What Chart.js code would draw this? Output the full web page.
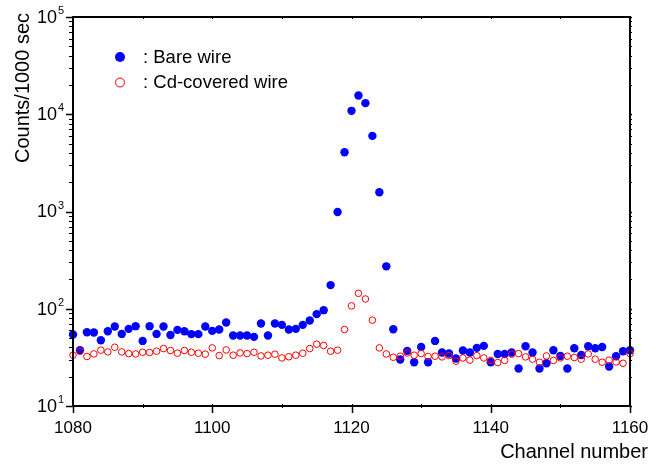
<!DOCTYPE html>
<html>
<head>
<meta charset="utf-8">
<script src="https://cdn.jsdelivr.net/npm/chart.js@4/dist/chart.umd.min.js"></script>
<style>
    html, body { margin: 0; padding: 0; background: #fff; }
    #wrap { width: 656px; height: 466px; }
</style>
</head>
<body>
<div id="wrap"><canvas id="spectrum" width="656" height="466"></canvas></div>
<script>
"use strict";

var channels = [
    1080, 1081, 1082, 1083, 1084, 1085, 1086, 1087, 1088, 1089,
    1090, 1091, 1092, 1093, 1094, 1095, 1096, 1097, 1098, 1099,
    1100, 1101, 1102, 1103, 1104, 1105, 1106, 1107, 1108, 1109,
    1110, 1111, 1112, 1113, 1114, 1115, 1116, 1117, 1118, 1119,
    1120, 1121, 1122, 1123, 1124, 1125, 1126, 1127, 1128, 1129,
    1130, 1131, 1132, 1133, 1134, 1135, 1136, 1137, 1138, 1139,
    1140, 1141, 1142, 1143, 1144, 1145, 1146, 1147, 1148, 1149,
    1150, 1151, 1152, 1153, 1154, 1155, 1156, 1157, 1158, 1159,
    1160
];

// bare wire counts per 1000 sec
var bareWire = [
    54.4, 37.5, 57.4, 57.0, 47.5, 58.8, 65.7, 55.1, 62.1, 66.2,
    46.7, 66.2, 55.1, 65.7, 53.8, 60.6, 58.8, 54.8, 54.8, 65.7,
    59.2, 61.2, 72.3, 53.1, 53.1, 53.1, 51.4, 70.6, 53.1, 70.6,
    68.3, 61.2, 62.1, 68.3, 75.8, 88.0, 96.7, 175, 988, 4070,
    10840, 15580, 13010, 5990, 1577, 273, 61.6, 30.1, 36.9, 28.2,
    40.5, 28.2, 46.7, 35.5, 34.6, 30.8, 37.2, 35.5, 39.6, 41.5,
    28.2, 34.3, 34.3, 35.5, 24.3, 41.2, 35.5, 24.3, 27.5, 37.5,
    32.7, 24.3, 39.3, 33.5, 41.2, 39.3, 40.5, 25.5, 32.5, 36.6,
    37.5
];

// Cd-covered wire counts per 1000 sec
var cdWire = [
    33.3, 36.6, 32.3, 34.3, 37.5, 36.0, 40.2, 36.0, 34.6, 34.3,
    35.7, 35.5, 36.6, 39.0, 37.2, 34.9, 37.2, 35.7, 34.9, 34.1,
    39.6, 33.0, 37.7, 33.3, 35.1, 34.6, 35.7, 32.7, 33.3, 34.1,
    31.2, 32.1, 33.3, 34.9, 39.0, 43.2, 41.9, 36.6, 37.5, 61.2,
    107, 144, 126, 76.3, 39.6, 34.3, 31.7, 32.5, 35.1, 33.3,
    34.6, 32.3, 32.5, 32.0, 33.0, 28.9, 31.2, 29.6, 33.0, 31.2,
    29.4, 28.0, 29.4, 34.1, 34.6, 32.0, 30.3, 28.2, 32.7, 29.4,
    31.2, 32.5, 31.5, 30.3, 34.3, 30.3, 28.2, 29.6, 28.4, 27.5,
    34.6
];

var xMajorTicks = [1080, 1100, 1120, 1140, 1160];
var xMinorTicks = [1090, 1110, 1130, 1150];
var yDecades = [1, 2, 3, 4, 5];

var seriesNames = [': Bare wire', ': Cd-covered wire'];

var FONT = '"Liberation Sans", Arial, Helvetica, sans-serif';

function toPoints(values) {
    return values.map(function (v, i) { return { x: channels[i], y: v }; });
}

var frameLayer = {
    id: 'frameLayer',
    afterDatasetsDraw: function (chart) {
        var ctx = chart.ctx;
        var area = chart.chartArea;
        var xs = chart.scales.x;
        var ys = chart.scales.y;

        ctx.save();
        ctx.strokeStyle = '#000';
        ctx.fillStyle = '#000';
        ctx.lineWidth = 2;
        ctx.beginPath();
        ctx.rect(area.left, area.top, area.right - area.left, area.bottom - area.top);
        ctx.stroke();

        // x ticks
        ctx.lineWidth = 1.5;
        xMajorTicks.forEach(function (v) {
            var px = Math.round(xs.getPixelForValue(v)) + 0.5;
            ctx.beginPath();
            ctx.moveTo(px, area.bottom);
            ctx.lineTo(px, area.bottom + 7);
            ctx.stroke();
        });
        ctx.lineWidth = 1;
        xMinorTicks.concat(xMajorTicks).forEach(function (v) {
            var px = Math.round(xs.getPixelForValue(v)) + 0.5;
            ctx.beginPath();
            ctx.moveTo(px, area.bottom - 2);
            ctx.lineTo(px, area.bottom + 2);
            ctx.moveTo(px, area.top - 1);
            ctx.lineTo(px, area.top + 2);
            ctx.stroke();
        });

        // y ticks, log minor ones too
        yDecades.forEach(function (d) {
            for (var m = 1; m <= 9; m++) {
                var val = m * Math.pow(10, d);
                if (val > 100000) { break; }
                var py = Math.round(ys.getPixelForValue(val)) + 0.5;
                var len = m === 1 ? 7 : 4;
                ctx.lineWidth = m === 1 ? 1.5 : 1;
                ctx.beginPath();
                ctx.moveTo(area.left - len, py);
                ctx.lineTo(area.left, py);
                ctx.moveTo(area.right, py);
                ctx.lineTo(area.right + 2, py);
                ctx.stroke();
            }
        });

        // tick labels
        ctx.font = '17px ' + FONT;
        ctx.textAlign = 'center';
        ctx.textBaseline = 'middle';
        xMajorTicks.forEach(function (v) {
            ctx.fillText(String(v), xs.getPixelForValue(v), area.bottom + 22);
        });

        yDecades.forEach(function (d) {
            var py = ys.getPixelForValue(Math.pow(10, d));
            ctx.font = '18px ' + FONT;
            ctx.textAlign = 'right';
            ctx.textBaseline = 'middle';
            ctx.fillText('10', 57, py + 1);
            ctx.font = '11px ' + FONT;
            ctx.textAlign = 'left';
            ctx.fillText(String(d), 58, py - 6);
        });

        // axis titles
        ctx.font = '20px ' + FONT;
        ctx.textAlign = 'right';
        ctx.textBaseline = 'alphabetic';
        ctx.fillText('Channel number', 648, 458);

        ctx.save();
        ctx.translate(29, 88);
        ctx.rotate(-Math.PI / 2);
        ctx.textAlign = 'center';
        ctx.fillText('Counts/1000 sec', 0, 0);
        ctx.restore();

        // legend
        ctx.fillStyle = '#0000ff';
        ctx.beginPath();
        ctx.arc(120, 57, 5, 0, Math.PI * 2);
        ctx.fill();
        ctx.strokeStyle = '#ff0000';
        ctx.lineWidth = 1;
        ctx.beginPath();
        ctx.arc(120, 82.5, 4.5, 0, Math.PI * 2);
        ctx.stroke();

        ctx.fillStyle = '#000';
        ctx.font = '18.5px ' + FONT;
        ctx.textAlign = 'left';
        ctx.textBaseline = 'middle';
        ctx.fillText(seriesNames[0], 143, 58);
        ctx.fillText(seriesNames[1], 143, 83);
        ctx.restore();
    }
};

var chart = new Chart(document.getElementById('spectrum'), {
    type: 'scatter',
    data: {
        datasets: [{
            label: seriesNames[0],
            data: toPoints(bareWire),
            pointStyle: 'circle',
            pointRadius: 4.2,
            pointBackgroundColor: '#0000ff',
            pointBorderColor: '#0000ff',
            pointBorderWidth: 0,
            order: 1,
            clip: false
        }, {
            label: seriesNames[1],
            data: toPoints(cdWire),
            pointStyle: 'circle',
            pointRadius: 3.3,
            pointBackgroundColor: 'rgba(255,255,255,0)',
            pointBorderColor: '#ff0000',
            pointBorderWidth: 1,
            order: 0,
            clip: false
        }]
    },
    options: {
        responsive: false,
        animation: false,
        events: [],
        layout: {
            padding: { left: 73, top: 17, right: 26, bottom: 60 }
        },
        plugins: {
            legend: { display: false },
            tooltip: { enabled: false }
        },
        scales: {
            x: {
                type: 'linear',
                display: false,
                min: 1080,
                max: 1160
            },
            y: {
                type: 'logarithmic',
                display: false,
                min: 10,
                max: 100000
            }
        }
    },
    plugins: [frameLayer]
});
</script>
</body>
</html>
